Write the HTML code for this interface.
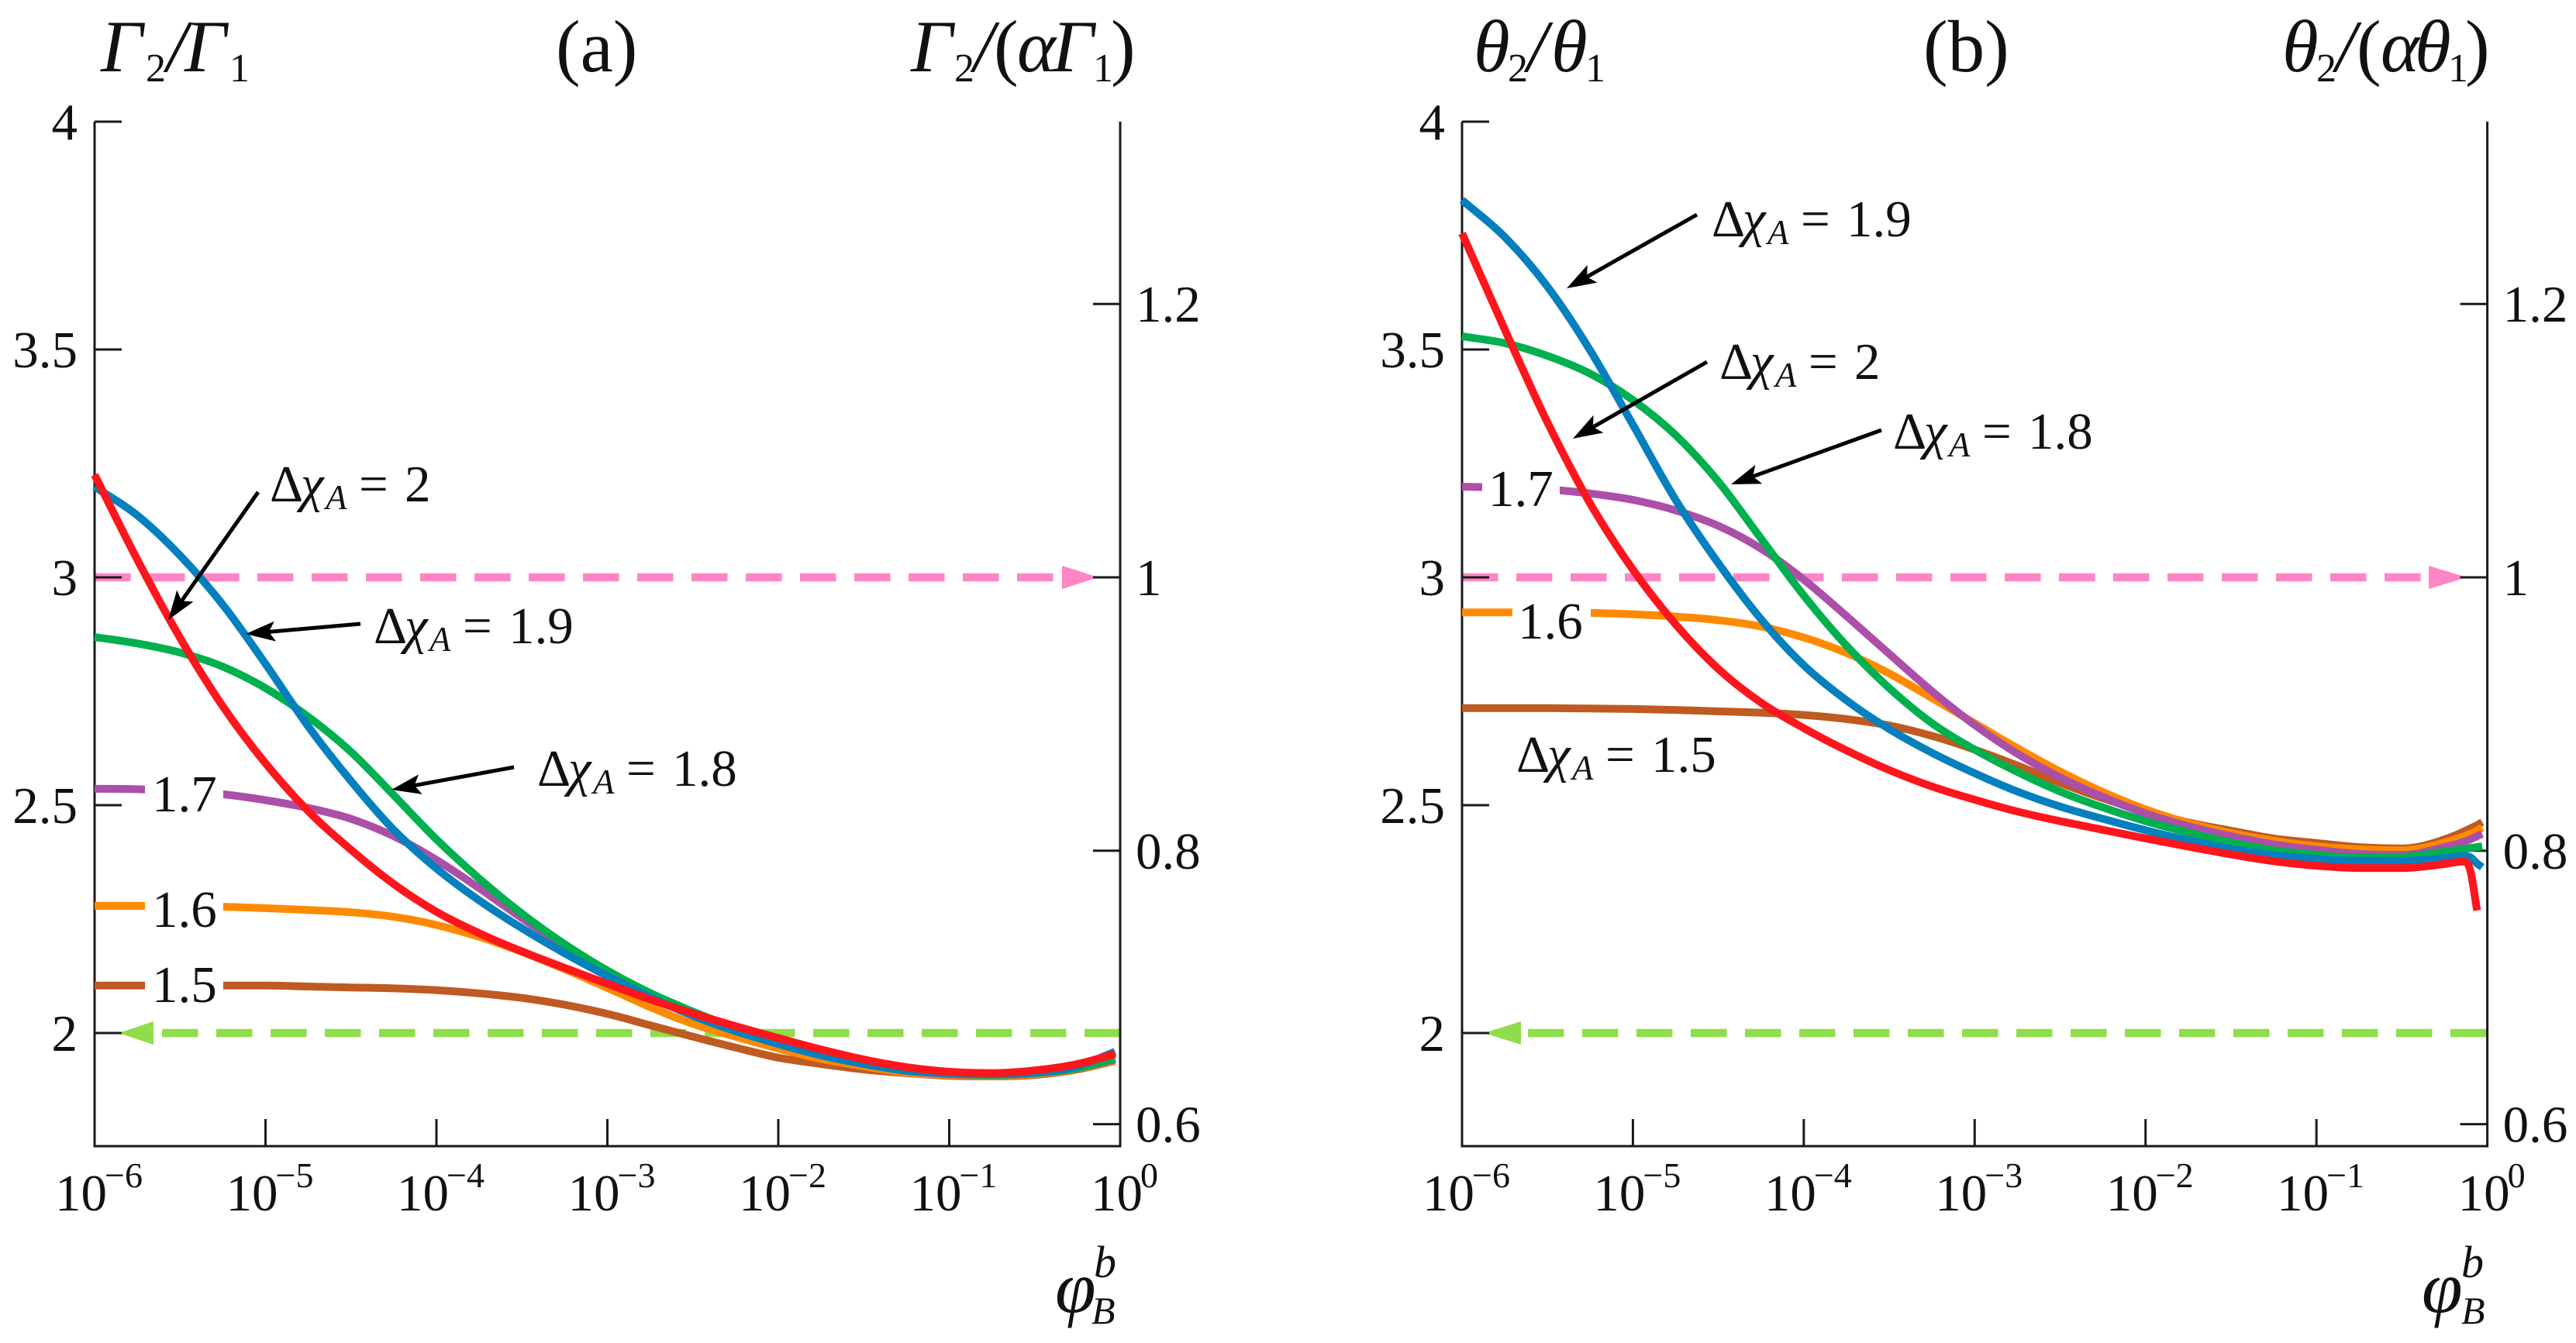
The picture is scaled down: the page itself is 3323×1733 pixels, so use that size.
<!DOCTYPE html>
<html lang="en">
<head>
<meta charset="utf-8">
<title>Gamma and theta ratios versus bulk concentration</title>
<style>
  html, body { margin: 0; padding: 0; background: #fff; }
  svg { display: block; }
  text { font-family: "Liberation Serif", "DejaVu Serif", serif; fill: #111; }
  .i { font-style: italic; }
  .tick-label { font-size: 67px; }
  .title { font-size: 95px; }
  .sub { font-size: 52px; font-style: normal; }
  .note { font-size: 67px; }
  .note-sub { font-size: 45px; font-style: italic; }
</style>
</head>
<body>
<svg id="figure" xmlns="http://www.w3.org/2000/svg" width="3323" height="1733" viewBox="0 0 3323 1733">
  <rect width="3323" height="1733" fill="#ffffff"/>

  <g id="panel-a"></g>
  <g id="panel-b"></g>
  <g id="arrows"></g>

  <!-- Panel (a) headings -->
  <text class="title i" y="92"><tspan x="130">Γ</tspan><tspan x="188" dy="13" class="sub">2</tspan><tspan x="215" dy="-13" style="font-style:italic">/</tspan><tspan x="238">Γ</tspan><tspan x="296" dy="13" class="sub">1</tspan></text>
  <text class="title" x="717" y="92">(a)</text>
  <text class="title i" y="92"><tspan x="1175">Γ</tspan><tspan x="1231" dy="13" class="sub">2</tspan><tspan x="1256" dy="-13">/</tspan><tspan x="1282" style="font-style:normal">(</tspan><tspan x="1312">α</tspan><tspan x="1357">Γ</tspan><tspan x="1410" dy="13" class="sub">1</tspan><tspan x="1433" dy="-13" style="font-style:normal">)</tspan></text>
  <text class="title i" y="1693"><tspan x="1361">φ</tspan><tspan x="1411" y="1648" style="font-size:58px">b</tspan><tspan x="1408" y="1708" style="font-size:50px">B</tspan></text>

  <!-- Panel (b) headings -->
  <text class="title i" y="92"><tspan x="1901">θ</tspan><tspan x="1945" dy="13" class="sub">2</tspan><tspan x="1970" dy="-13">/</tspan><tspan x="2001">θ</tspan><tspan x="2045" dy="13" class="sub">1</tspan></text>
  <text class="title" x="2481" y="92">(b)</text>
  <text class="title i" y="92"><tspan x="2944">θ</tspan><tspan x="2988" dy="13" class="sub">2</tspan><tspan x="3013" dy="-13">/</tspan><tspan x="3040" style="font-style:normal">(</tspan><tspan x="3071">α</tspan><tspan x="3115">θ</tspan><tspan x="3158" dy="13" class="sub">1</tspan><tspan x="3180" dy="-13" style="font-style:normal">)</tspan></text>
  <text class="title i" y="1693"><tspan x="3124">φ</tspan><tspan x="3175" y="1648" style="font-size:58px">b</tspan><tspan x="3175" y="1708" style="font-size:50px">B</tspan></text>

  <!-- Panel (a) annotations -->
  <text class="note" y="647"><tspan x="348">Δ</tspan><tspan x="388" class="i">χ</tspan><tspan x="420" dy="10" class="note-sub">A</tspan><tspan x="463" dy="-10">=</tspan><tspan x="522">2</tspan></text>
  <text class="note" y="830"><tspan x="482">Δ</tspan><tspan x="522" class="i">χ</tspan><tspan x="554" dy="10" class="note-sub">A</tspan><tspan x="597" dy="-10">=</tspan><tspan x="656">1.9</tspan></text>
  <text class="note" y="1014"><tspan x="693">Δ</tspan><tspan x="733" class="i">χ</tspan><tspan x="765" dy="10" class="note-sub">A</tspan><tspan x="808" dy="-10">=</tspan><tspan x="867">1.8</tspan></text>
  <text class="note" x="196" y="1047">1.7</text>
  <text class="note" x="196" y="1196">1.6</text>
  <text class="note" x="196" y="1293">1.5</text>

  <!-- Panel (b) annotations -->
  <text class="note" y="305"><tspan x="2208">Δ</tspan><tspan x="2248" class="i">χ</tspan><tspan x="2280" dy="10" class="note-sub">A</tspan><tspan x="2323" dy="-10">=</tspan><tspan x="2382">1.9</tspan></text>
  <text class="note" y="489"><tspan x="2218">Δ</tspan><tspan x="2258" class="i">χ</tspan><tspan x="2290" dy="10" class="note-sub">A</tspan><tspan x="2333" dy="-10">=</tspan><tspan x="2392">2</tspan></text>
  <text class="note" y="579"><tspan x="2442">Δ</tspan><tspan x="2482" class="i">χ</tspan><tspan x="2514" dy="10" class="note-sub">A</tspan><tspan x="2557" dy="-10">=</tspan><tspan x="2616">1.8</tspan></text>
  <text class="note" y="996"><tspan x="1956">Δ</tspan><tspan x="1996" class="i">χ</tspan><tspan x="2028" dy="10" class="note-sub">A</tspan><tspan x="2071" dy="-10">=</tspan><tspan x="2130">1.5</tspan></text>
  <text class="note" x="1920" y="653">1.7</text>
  <text class="note" x="1958" y="824">1.6</text>
</svg>

<script>
// ---- Data ----
const xTickExponents = [-6, -5, -4, -3, -2, -1, 0];
const leftTickValues = [2, 2.5, 3, 3.5, 4];
const leftTickLabels = ['2', '2.5', '3', '3.5', '4'];
const rightTickValues = [0.6, 0.8, 1, 1.2];
const rightTickLabels = ['0.6', '0.8', '1', '1.2'];

const logPhiA = [-6,-5.75,-5.5,-5.25,-5,-4.75,-4.5,-4.25,-4,-3.75,-3.5,-3.25,-3,-2.75,-2.5,-2.25,-2,-1.75,-1.5,-1.25,-1,-0.75,-0.5,-0.25,-0.03];
const logPhiB = [-6,-5.75,-5.5,-5.25,-5,-4.75,-4.5,-4.25,-4,-3.75,-3.5,-3.25,-3,-2.75,-2.5,-2.25,-2,-1.75,-1.5,-1.25,-1,-0.75,-0.5,-0.25,-0.15,-0.1,-0.06,-0.03];

const gammaDchi15 = [2.104,2.104,2.104,2.104,2.104,2.102,2.100,2.098,2.094,2.087,2.077,2.062,2.042,2.017,1.992,1.968,1.946,1.932,1.920,1.912,1.906,1.905,1.908,1.920,1.939];
const gammaDchi16 = [2.279,2.279,2.278,2.277,2.274,2.270,2.265,2.255,2.237,2.211,2.178,2.140,2.099,2.057,2.020,1.992,1.966,1.943,1.927,1.913,1.908,1.906,1.910,1.922,1.940];
const gammaDchi17 = [2.536,2.535,2.531,2.524,2.511,2.494,2.470,2.432,2.380,2.318,2.252,2.190,2.136,2.087,2.043,2.006,1.976,1.951,1.932,1.917,1.910,1.908,1.912,1.923,1.942];
const gammaDchi18 = [2.869,2.855,2.835,2.804,2.757,2.694,2.617,2.522,2.425,2.339,2.262,2.195,2.137,2.088,2.047,2.011,1.980,1.953,1.933,1.919,1.911,1.908,1.912,1.923,1.944];
const gammaDchi19 = [3.199,3.136,3.048,2.940,2.810,2.673,2.553,2.446,2.361,2.291,2.230,2.175,2.125,2.079,2.038,2.004,1.976,1.951,1.932,1.917,1.912,1.910,1.913,1.927,1.959];
const gammaDchi20 = [3.225,3.039,2.867,2.717,2.592,2.487,2.402,2.327,2.266,2.219,2.179,2.143,2.108,2.074,2.043,2.015,1.989,1.964,1.942,1.925,1.915,1.912,1.918,1.932,1.954];

const thetaDchi15 = [2.713,2.713,2.713,2.712,2.711,2.709,2.706,2.703,2.698,2.689,2.675,2.652,2.622,2.587,2.549,2.515,2.486,2.462,2.444,2.427,2.417,2.408,2.405,2.425,2.440,2.449,2.456,2.463];
const thetaDchi16 = [2.923,2.923,2.923,2.922,2.919,2.914,2.906,2.892,2.868,2.834,2.789,2.735,2.680,2.625,2.574,2.529,2.491,2.461,2.439,2.422,2.410,2.403,2.401,2.418,2.430,2.437,2.444,2.451];
const thetaDchi17 = [3.199,3.197,3.193,3.184,3.170,3.147,3.113,3.063,2.995,2.915,2.832,2.750,2.676,2.613,2.561,2.518,2.482,2.454,2.432,2.414,2.402,2.393,2.391,2.408,2.418,2.425,2.432,2.437];
const thetaDchi18 = [3.529,3.514,3.486,3.447,3.389,3.312,3.210,3.085,2.960,2.850,2.757,2.680,2.622,2.573,2.530,2.495,2.465,2.440,2.418,2.401,2.391,2.385,2.386,2.398,2.403,2.406,2.408,2.410];
const thetaDchi19 = [3.828,3.747,3.638,3.498,3.335,3.170,3.031,2.908,2.807,2.730,2.667,2.615,2.570,2.530,2.497,2.470,2.445,2.423,2.404,2.391,2.382,2.378,2.378,2.384,2.388,2.386,2.372,2.364];
const thetaDchi20 = [3.755,3.544,3.340,3.162,3.017,2.897,2.799,2.725,2.669,2.620,2.577,2.541,2.512,2.486,2.465,2.446,2.427,2.409,2.392,2.377,2.367,2.362,2.362,2.371,2.376,2.357,2.269,null];

const seriesNames = ['1-5', '1-6', '1-7', '1-8', '1-9', '2'];
const seriesColors = ['#BE5A22', '#FF8A00', '#AB4FA8', '#00B04F', '#0580BE', '#FF151C'];
const referenceLevels = [3, 2];

// ---- Drawing ----
const NS = 'http://www.w3.org/2000/svg';
const AXIS_TOP = 157, AXIS_BOTTOM = 1479, PX_PER_UNIT = 588;
function yLeft(v) { return AXIS_TOP + (4 - v) * PX_PER_UNIT; }
function yRight(v) { return yLeft(v * 3); }

function make(tag, parent, name, props) {
  const el = document.createElementNS(NS, tag);
  
  
  for (const k in props) el.setAttribute(k, props[k]);
  parent.appendChild(el);
  return el;
}

function smoothPath(pts) {
  const n = pts.length;
  const dx = [], m = [], t = [];
  for (let i = 0; i < n - 1; i++) {
    dx[i] = pts[i + 1][0] - pts[i][0];
    m[i] = (pts[i + 1][1] - pts[i][1]) / dx[i];
  }
  t[0] = m[0];
  t[n - 1] = m[n - 2];
  for (let i = 1; i < n - 1; i++) {
    t[i] = m[i - 1] * m[i] <= 0 ? 0 : (m[i - 1] * dx[i] + m[i] * dx[i - 1]) / (dx[i] + dx[i - 1]);
  }
  let d = 'M' + pts[0][0].toFixed(1) + ' ' + pts[0][1].toFixed(1);
  for (let i = 0; i < n - 1; i++) {
    const h = dx[i] / 3;
    d += 'C' + (pts[i][0] + h).toFixed(1) + ' ' + (pts[i][1] + t[i] * h).toFixed(1) + ' ' +
         (pts[i + 1][0] - h).toFixed(1) + ' ' + (pts[i + 1][1] - t[i + 1] * h).toFixed(1) + ' ' +
         pts[i + 1][0].toFixed(1) + ' ' + pts[i + 1][1].toFixed(1);
  }
  return d;
}

function drawPanel(root, prefix, left, right, logPhi, seriesList, gaps, pinkArrow, greenArrow, firstGreenDash) {
  const x = function (lg) { return left + (lg + 6) * (right - left) / 6; };

  // reference dashed lines
  const pinkY = yLeft(referenceLevels[0]);
  const greenY = yLeft(referenceLevels[1]);
  make('line', root, prefix + '-reference-line-alpha', { x1: left, x2: pinkArrow[0], y1: pinkY, y2: pinkY, stroke: '#FF85C6', 'stroke-width': 10.5, 'stroke-dasharray': '46.5 23.5' });
  make('polygon', root, prefix + '-reference-arrow-alpha', { points: pinkArrow[0] + ',' + (pinkY - 15) + ' ' + pinkArrow[1] + ',' + pinkY + ' ' + pinkArrow[0] + ',' + (pinkY + 15), fill: '#FF85C6' });
  make('line', root, prefix + '-reference-line-unity', { x1: firstGreenDash, x2: right, y1: greenY, y2: greenY, stroke: '#8FDD4B', 'stroke-width': 10.5, 'stroke-dasharray': '46.5 23.5' });
  make('polygon', root, prefix + '-reference-arrow-unity', { points: greenArrow[0] + ',' + (greenY - 15) + ' ' + greenArrow[1] + ',' + greenY + ' ' + greenArrow[0] + ',' + (greenY + 15), fill: '#8FDD4B' });

  // axes
  const axisStyle = { stroke: '#1a1a1a', 'stroke-width': 3, fill: 'none' };
  make('path', root, prefix + '-axis-frame', Object.assign({ d: 'M' + left + ' ' + AXIS_TOP + 'V' + AXIS_BOTTOM + 'H' + right + 'V' + AXIS_TOP }, axisStyle));

  leftTickValues.forEach(function (v, i) {
    const y = yLeft(v);
    make('line', root, prefix + '-left-tick', Object.assign({ x1: left, x2: left + 35, y1: y, y2: y }, axisStyle));
    const t = make('text', root, prefix + '-left-tick-label', { class: 'tick-label', x: left - 22, y: y + 23, 'text-anchor': 'end' });
    t.textContent = leftTickLabels[i];
  });
  rightTickValues.forEach(function (v, i) {
    const y = yRight(v);
    make('line', root, prefix + '-right-tick', Object.assign({ x1: right - 35, x2: right, y1: y, y2: y }, axisStyle));
    const t = make('text', root, prefix + '-right-tick-label', { class: 'tick-label', x: right + 20, y: y + 23 });
    t.textContent = rightTickLabels[i];
  });
  xTickExponents.forEach(function (e, i) {
    const tx = x(e);
    if (i > 0 && i < xTickExponents.length - 1) {
      make('line', root, prefix + '-x-tick', Object.assign({ x1: tx, x2: tx, y1: AXIS_BOTTOM - 35, y2: AXIS_BOTTOM }, axisStyle));
    }
    const startX = e === 0 ? tx - 38 : tx - 51;
    const t = make('text', root, prefix + '-x-tick-label', { class: 'tick-label', x: startX, y: 1562 });
    const base = document.createElementNS(NS, 'tspan');
    base.textContent = '10';
    t.appendChild(base);
    const sup = document.createElementNS(NS, 'tspan');
    sup.setAttribute('x', startX + 64);
    sup.setAttribute('dy', '-30');
    sup.setAttribute('style', 'font-size:46px');
    sup.textContent = e === 0 ? '0' : '\u2212' + Math.abs(e);
    t.appendChild(sup);
  });

  // series, drawn brown -> red so red stays on top
  seriesList.forEach(function (values, s) {
    const pts = [];
    values.forEach(function (v, i) {
      if (v !== null) pts.push([x(logPhi[i]), yLeft(v)]);
    });
    make('path', root, prefix + '-series-dchi-' + seriesNames[s], {
      d: smoothPath(pts), fill: 'none', stroke: seriesColors[s], 'stroke-width': 10, 'stroke-linejoin': 'round'
    });
    const gap = gaps[s];
    if (gap) {
      make('rect', root, prefix + '-label-gap-' + seriesNames[s], {
        x: gap[0], width: gap[1] - gap[0], y: yLeft(values[0]) - 11, height: 24, fill: '#ffffff'
      });
    }
  });
}

drawPanel(document.getElementById('panel-a'), 'panel-a', 122, 1445, logPhiA,
  [gammaDchi15, gammaDchi16, gammaDchi17, gammaDchi18, gammaDchi19, gammaDchi20],
  [[187, 288], [187, 288], [187, 288], null, null, null],
  [1370, 1417], [198, 153], 209);

drawPanel(document.getElementById('panel-b'), 'panel-b', 1886, 3208.6, logPhiB,
  [thetaDchi15, thetaDchi16, thetaDchi17, thetaDchi18, thetaDchi19, thetaDchi20],
  [null, [1951, 2052], [1912, 2012], null, null, null],
  [3133, 3182], [1962, 1914], 1971);

// ---- Callout arrows (tail x, tail y, tip x, tip y) ----
const calloutNames = ['a-2', 'a-1-9', 'a-1-8', 'b-1-9', 'b-2', 'b-1-8'];
const calloutTails = [[333, 635], [465, 805], [663, 990], [2189, 277], [2202, 467], [2427, 555]];
const calloutTips = [[217, 800], [317, 818], [505, 1019], [2021, 372], [2029, 566], [2233, 625]];
const arrowsRoot = document.getElementById('arrows');
calloutNames.forEach(function (name, i) {
  const a = calloutTails[i], b = calloutTips[i];
  const len = Math.hypot(b[0] - a[0], b[1] - a[1]);
  const ux = (b[0] - a[0]) / len, uy = (b[1] - a[1]) / len;
  const nx = -uy, ny = ux;
  const back = 38, notch = 30, half = 13;
  make('line', arrowsRoot, 'callout-line-' + name, {
    x1: a[0], y1: a[1], x2: b[0] - ux * notch, y2: b[1] - uy * notch, stroke: '#000', 'stroke-width': 5
  });
  const p = [
    [b[0], b[1]],
    [b[0] - ux * back + nx * half, b[1] - uy * back + ny * half],
    [b[0] - ux * notch, b[1] - uy * notch],
    [b[0] - ux * back - nx * half, b[1] - uy * back - ny * half]
  ];
  make('polygon', arrowsRoot, 'callout-head-' + name, {
    points: p.map(function (q) { return q[0].toFixed(1) + ',' + q[1].toFixed(1); }).join(' '), fill: '#000'
  });
});
</script>
</body>
</html>
